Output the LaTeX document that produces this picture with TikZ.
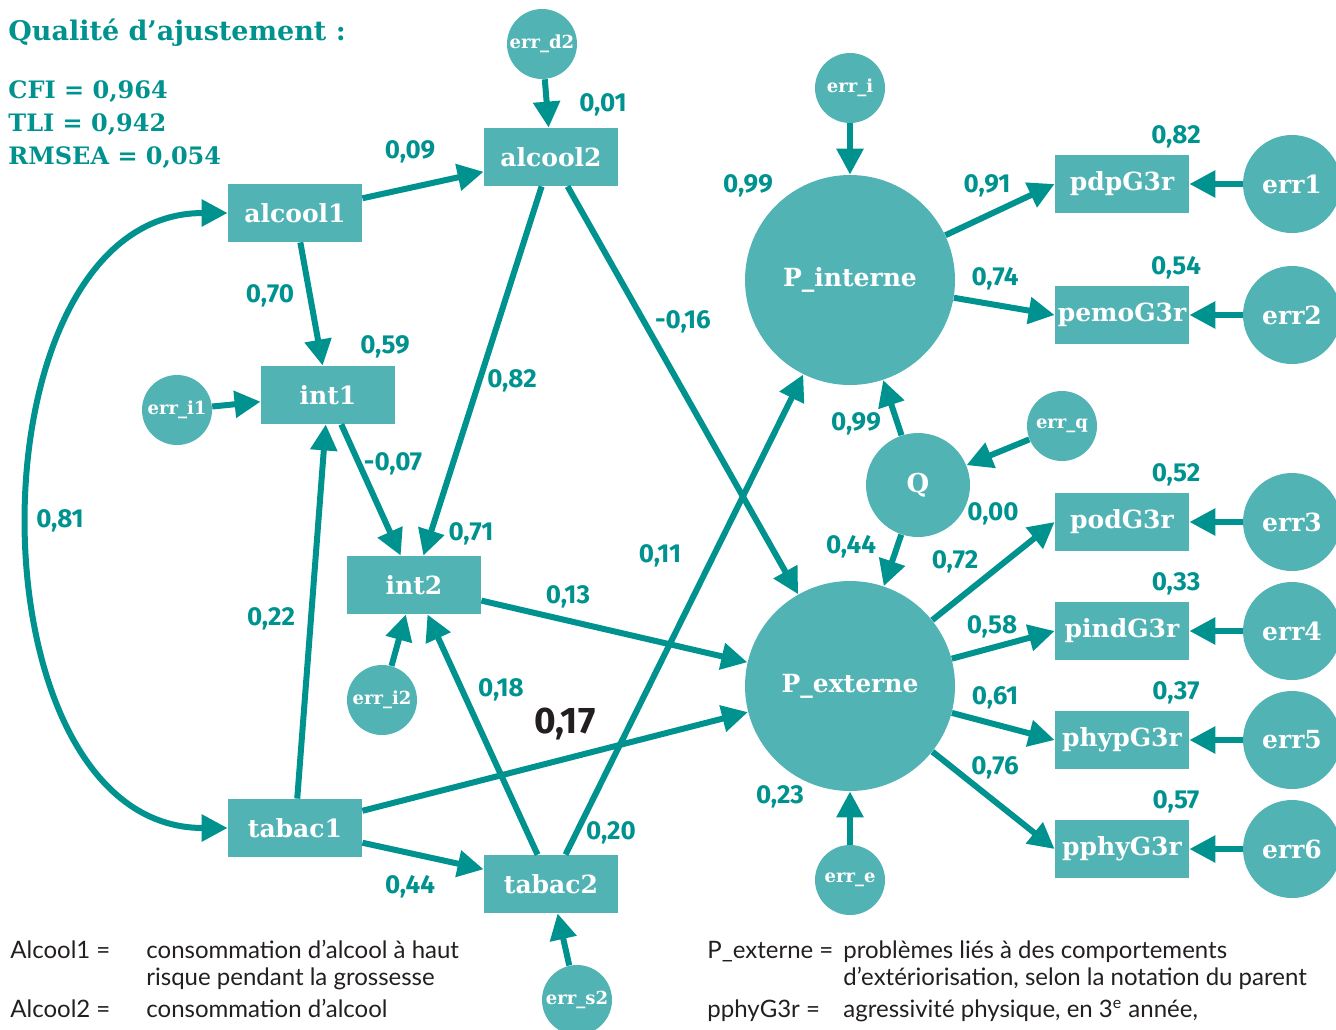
\documentclass[tikz,border=0pt]{standalone}
\usepackage{fontspec}
\setmainfont{DejaVu Serif}
\newfontfamily\numfont{Fira Sans}
\newfontfamily\legendfont{Lato}
\usepackage{xcolor}
\usetikzlibrary{arrows.meta}
\definecolor{qteal}{RGB}{0,146,143}
\definecolor{qfill}{RGB}{82,179,180}
\definecolor{qblack}{RGB}{35,31,32}

\begin{document}
\begin{tikzpicture}[x=0.5pt,y=-0.5pt,
  >={Triangle[length=13pt,width=13pt]},
  var/.style={rectangle,fill=qfill,text=white,inner sep=0pt,minimum width=67pt,minimum height=29pt,font=\bfseries\fontsize{12.5}{14}\selectfont},
  lat/.style={circle,fill=qfill,text=white,inner sep=0pt,minimum size=105pt,font=\bfseries\fontsize{12.5}{14}\selectfont},
  err/.style={circle,fill=qfill,text=white,inner sep=0pt,minimum size=35pt,font=\bfseries\fontsize{9}{10}\selectfont},
  bigerr/.style={circle,fill=qfill,text=white,inner sep=0pt,minimum size=49pt,font=\bfseries\fontsize{12.5}{14}\selectfont},
  wt/.style={text=qteal,inner sep=0pt,font=\numfont\bfseries\fontsize{13}{15}\selectfont},
  link/.style={draw=qteal,line width=3pt,->},
  leg/.style={anchor=base west,inner sep=0pt,text=qblack,font=\legendfont\fontsize{12}{14}\selectfont}]
\useasboundingbox (0,0) rectangle (1336,1029);

%Fit:
\node[anchor=base west,inner sep=0pt,text=qteal,font=\bfseries\fontsize{13.5}{16}\selectfont] (titre) at (8,40) {Qualité d’ajustement :};
\node[anchor=base west,inner sep=0pt,text=qteal,font=\bfseries\fontsize{12}{14}\selectfont] (cfi) at (8,98) {CFI = 0,964};
\node[anchor=base west,inner sep=0pt,text=qteal,font=\bfseries\fontsize{12}{14}\selectfont] (tli) at (8,131) {TLI = 0,942};
\node[anchor=base west,inner sep=0pt,text=qteal,font=\bfseries\fontsize{12}{14}\selectfont] (rmsea) at (8,164) {RMSEA = 0,054};

%Variables:
\node[var] (alcool1) at (295,213) {alcool1};
\node[var] (alcool2) at (551,157) {alcool2};
\node[var] (int1) at (328,395) {int1};
\node[var] (int2) at (414,585) {int2};
\node[var] (tabac1) at (295,828) {tabac1};
\node[var] (tabac2) at (551,884) {tabac2};

\node[lat] (Pint) at (850,280) {P\_interne};
\node[lat] (Pext) at (850,686) {P\_externe};
\node[circle,fill=qfill,text=white,inner sep=0pt,minimum size=52pt,font=\bfseries\fontsize{13}{15}\selectfont] (Q) at (918,485) {Q};

%Errors:
\node[err] (errd2) at (542,44) {err\_d2};
\node[err] (erri) at (850,88) {err\_i};
\node[err] (erri1) at (177,410) {err\_i1};
\node[err] (erri2) at (382,700) {err\_i2};
\node[err] (errq) at (1062,426) {err\_q};
\node[err] (erre) at (850,880) {err\_e};
\node[err] (errs2) at (577,1000) {err\_s2};

%Indicators:
\foreach \name/\y/\r [count=\i] in {pdpG3r/184/82,pemoG3r/315/54,podG3r/522/52,pindG3r/631/33,phypG3r/740/37,pphyG3r/849/57}{
  \node[var] (\name) at (1122,\y) {\name};
  \node[bigerr] (err\i) at (1292,\y) {err\i};
  \node[wt] (r\i) at (1176,\y-47) {0,\r};
  \draw[link] (err\i) -- (\name);
}

%Paths:
\draw[link] (alcool1) -- (alcool2);
\draw[link] (errd2) -- (alcool2);
\draw[link] (alcool1) -- (int1);
\draw[link] (erri1) -- (int1);
\draw[link] (tabac1) -- (int1);
\draw[link] (int1) -- (int2);
\draw[link] (alcool2) -- (int2);
\draw[link] (erri2) -- (int2);
\draw[link] (tabac2) -- (int2);
\draw[link] (tabac1) -- (tabac2);
\draw[link] (errs2) -- (tabac2);
\draw[link] (alcool2) -- (Pext);
\draw[link] (int2) -- (Pext);
\draw[link] (tabac1) -- (Pext);
\draw[link] (tabac2) -- (Pint);
\draw[link] (erri) -- (Pint);
\draw[link] (erre) -- (Pext);
\draw[link] (Q) -- (Pint);
\draw[link] (Q) -- (Pext);
\draw[link] (errq) -- (Q);
\draw[link] (Pint) -- (pdpG3r.west);
\draw[link] (Pint) -- (pemoG3r.west);
\draw[link] (Pext) -- (podG3r.west);
\draw[link] (Pext) -- (pindG3r.west);
\draw[link] (Pext) -- (phypG3r.west);
\draw[link] (Pext) -- (pphyG3r.west);
\draw[link,<->] (alcool1.west) .. controls (-35,213) and (-35,828) .. (tabac1.west);

%Weights:
\node[wt] (w1) at (410,152) {0,09};
\node[wt] (w2) at (603,105) {0,01};
\node[wt] (w3) at (270,296) {0,70};
\node[wt] (w4) at (385,347) {0,59};
\node[wt] (w5) at (393,464) {-0,07};
\node[wt] (w6) at (512,381) {0,82};
\node[wt] (w7) at (683,322) {-0,16};
\node[wt] (w8) at (471,534) {0,71};
\node[wt] (w9) at (568,597) {0,13};
\node[wt] (w10) at (501,690) {0,18};
\node[wt] (w11) at (271,619) {0,22};
\node[wt] (w12) at (410,887) {0,44};
\node[wt] (w13) at (611,833) {0,20};
\node[wt] (w14) at (660,556) {0,11};
\node[wt] (w15) at (60,521) {0,81};
\node[wt] (w16) at (748,186) {0,99};
\node[wt] (w17) at (987,186) {0,91};
\node[wt] (w18) at (995,279) {0,74};
\node[wt] (w19) at (856,424) {0,99};
\node[wt] (w20) at (851,547) {0,44};
\node[wt] (w21) at (993,514) {0,00};
\node[wt] (w22) at (955,562) {0,72};
\node[wt] (w23) at (992,627) {0,58};
\node[wt] (w24) at (995,698) {0,61};
\node[wt] (w25) at (995,768) {0,76};
\node[wt] (w26) at (780,797) {0,23};
\node[inner sep=0pt,text=qblack,font=\numfont\bfseries\fontsize{18.5}{20}\selectfont] (w27) at (565,724) {0,17};

%Legend:
\node[leg] (k1) at (10,958) {Alcool1 =};
\node[leg] (d1) at (146,958) {consommation d’alcool à haut};
\node[leg] (d1b) at (146,985) {risque pendant la grossesse};
\node[leg] (k2) at (10,1017) {Alcool2 =};
\node[leg] (d2) at (146,1017) {consommation d’alcool};
\node[leg] (k3) at (707,958) {P\_externe =};
\node[leg] (d3) at (843,958) {problèmes liés à des comportements};
\node[leg] (d3b) at (843,985) {d’extériorisation, selon la notation du parent};
\node[leg] (k4) at (707,1017) {pphyG3r =};
\node[leg] (d4) at (843,1017) {agressivité physique, en 3\textsuperscript{e} année,};

\end{tikzpicture}
\end{document}
